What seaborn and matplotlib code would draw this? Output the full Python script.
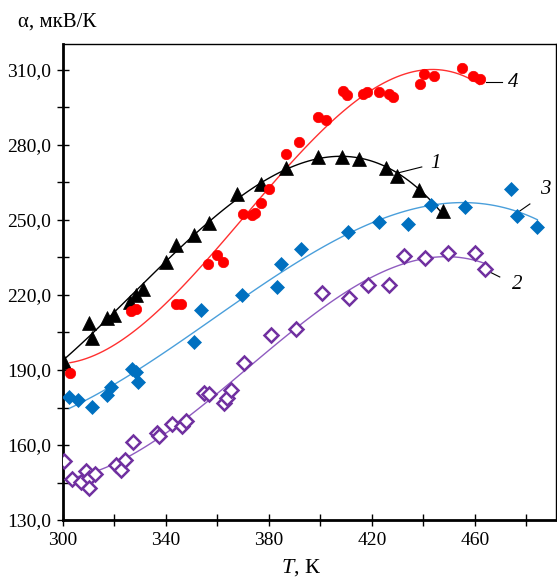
import numpy as np
import pandas as pd
import matplotlib.pyplot as plt
import seaborn as sns
from matplotlib.ticker import FixedLocator, FuncFormatter

# Series 1 (black triangles)
t1 = [300.4, 310, 311.4, 317, 319.8, 326, 328.3, 331, 340, 343.8, 351, 356.8,
      367.8, 376.8, 386.6, 399, 408.3, 415, 425.4, 429.7, 438.3, 447.6]
a1 = [193.3, 208.9, 202.7, 210.7, 212, 217.3, 220, 222.3, 233.3, 240, 244, 248.7,
      260.4, 264.4, 270.7, 275.2, 275.2, 274.4, 270.8, 267.6, 262, 253.6]

# Series 2 (purple open diamonds)
t2 = [300.4, 303.4, 306.9, 308.9, 310.2, 310.2, 312.4, 320.8, 322.4, 324.3, 327.3,
      336.4, 337.4, 342.2, 346.4, 348, 354.9, 356.8, 362.5, 363.6, 365.2, 370.4,
      380.8, 390.7, 400.5, 411.2, 418.6, 426.7, 432.6, 440.8, 449.6, 460, 463.9]
a2 = [153.6, 146.4, 145.3, 149.7, 147, 142.7, 148.3, 152, 150, 154, 161.3,
      165, 163.6, 168.3, 167.7, 169.7, 181, 180.3, 177, 178.7, 182, 192.7,
      204, 206.4, 220.7, 218.7, 224, 224, 235.6, 234.7, 236.7, 236.7, 230.4]

# Series 3 (blue diamonds)
t3 = [302.5, 306, 311.1, 317, 318.6, 326.9, 328.3, 329.3, 350.9, 353.5, 369.5,
      383, 384.7, 392.3, 410.6, 422.7, 434, 442.9, 456.3, 474, 476.2, 484.3]
a3 = [179.3, 178, 175.3, 180, 183.3, 190.3, 189, 185, 201, 214, 220,
      223.3, 232.4, 238.4, 245, 249, 248.4, 256, 255.3, 262.4, 251.7, 247.3]

# Series 4 (red circles)
t4 = [302.7, 326.3, 328.3, 343.9, 345.7, 356.2, 360, 362.3, 369.8, 373.3, 374.5,
      376.8, 380.1, 386.6, 391.8, 399.2, 402, 408.9, 410.2, 416.4, 418.2, 422.6,
      426.6, 428.3, 438.6, 440.2, 444.2, 455.2, 459.3, 461.9]
a4 = [188.9, 213.7, 214.4, 216.4, 216.4, 232.3, 236, 233.3, 252.4, 252, 252.9,
      256.7, 262.3, 276.3, 281, 291, 290, 301.7, 300, 300.4, 301, 301,
      300.4, 299.3, 304.3, 308.4, 307.6, 310.7, 307.7, 306.4]

x_ticks = [300, 340, 380, 420, 460]
y_ticks = [130, 160, 190, 220, 250, 280, 310]

plt.rcParams['font.family'] = ['Liberation Serif', 'DejaVu Serif']
plt.rcParams['mathtext.fontset'] = 'custom'
plt.rcParams['mathtext.rm'] = 'Liberation Serif'
plt.rcParams['mathtext.it'] = 'Liberation Serif:italic'

fig = plt.figure(figsize=(5.57, 5.78), dpi=100)
ax = fig.add_axes([0.113, 0.1003, 0.885, 0.8237])

series = [
    (t1, a1, 'black', 'black', '^', 9.5, 'black'),
    (t2, a2, 'white', '#7030A0', 'D', 7.0, '#8F5CC0'),
    (t3, a3, '#0070C0', '#0070C0', 'D', 7.0, '#4A9FDB'),
    (t4, a4, '#FF0000', '#FF0000', 'o', 7.5, '#FF3030'),
]

# fitted curves first, markers on top
for t, a, fc, ec, m, ms, lc in series:
    df = pd.DataFrame({'T': t, 'a': a})
    sns.regplot(data=df, x='T', y='a', order=3, ci=None, scatter=False, ax=ax,
                line_kws={'color': lc, 'lw': 1.0}, truncate=True)

for t, a, fc, ec, m, ms, lc in series:
    ax.plot(t, a, linestyle='none', marker=m, markersize=ms,
            markerfacecolor=fc, markeredgecolor=ec,
            markeredgewidth=1.8 if fc == 'white' else 0.5, zorder=3)

# curve labels with leader lines
labels = [('1', (430.1, 268.8), (439.4, 271.2), (442.5, 272.5)),
          ('4', (464.3, 305.2), (470.5, 305.2), (472.8, 304.8)),
          ('3', (477.5, 253.6), (481.4, 256.4), (485.2, 262.0)),
          ('2', (465.8, 229.2), (469.7, 227.2), (474.4, 224.0))]
for txt, p0, p1, pt in labels:
    ax.plot([p0[0], p1[0]], [p0[1], p1[1]], color='black', lw=0.8)
    ax.text(pt[0], pt[1], txt, fontsize=15, style='italic',
            ha='left', va='center')

ax.set_xlim(300, 491.5)
ax.set_ylim(130, 320.4)
ax.xaxis.set_major_locator(FixedLocator(x_ticks))
ax.xaxis.set_minor_locator(FixedLocator([v + 20 for v in x_ticks]))
ax.yaxis.set_major_locator(FixedLocator(y_ticks))
ax.yaxis.set_minor_locator(FixedLocator([v + 15 for v in y_ticks]))
ax.yaxis.set_major_formatter(FuncFormatter(lambda v, p: f"{v:.1f}".replace('.', ',')))
ax.tick_params(which='both', direction='inout', length=9, width=1.0,
               labelsize=14, pad=4)
ax.set_xlabel('')
ax.set_ylabel('')
for s in ax.spines.values():
    s.set_linewidth(1.0)
ax.spines['left'].set_linewidth(2.0)
ax.spines['bottom'].set_linewidth(2.0)

fig.text(0.032, 0.962, 'α, мкВ/К', fontsize=15, ha='left', va='center')
fig.text(0.54, 0.018, '$\\mathit{T}$, К', fontsize=16, ha='center', va='center')

fig.savefig('out.png', dpi=100)
